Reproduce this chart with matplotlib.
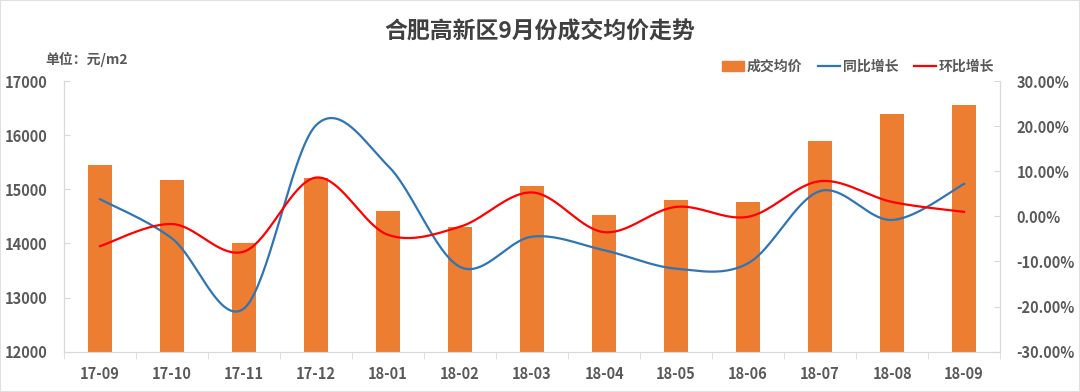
import numpy as np
import matplotlib.pyplot as plt
from matplotlib.patches import Patch
from matplotlib.lines import Line2D
from matplotlib.ticker import FixedLocator

plt.rcParams['font.family'] = ['Noto Sans CJK SC', 'DejaVu Sans']

months = ['17-09', '17-10', '17-11', '17-12', '18-01', '18-02', '18-03',
          '18-04', '18-05', '18-06', '18-07', '18-08', '18-09']
avg_price = [15440, 15175, 14000, 15205, 14600, 14300, 15065,
             14520, 14805, 14760, 15890, 16400, 16560]
yoy = [3.8, -4.9, -20.4, 20.2, 11.2, -11.2, -4.5, -7.5, -11.6, -10.4, 5.6, -0.8, 7.2]
mom = [-6.6, -1.7, -7.8, 8.6, -4.1, -2.3, 5.3, -3.5, 2.1, -0.1, 7.8, 3.2, 1.0]

ORANGE = '#ED7D31'
BLUE = '#2E75B6'
RED = '#FF0000'
TXT = '#595959'
AXC = '#D9D9D9'


def smooth(xs, ys, n=40):
    # catmull-rom style bezier, like excel's smoothed line
    xs = np.asarray(xs, float)
    ys = np.asarray(ys, float)
    px = np.concatenate([[xs[0]], xs, [xs[-1]]])
    py = np.concatenate([[ys[0]], ys, [ys[-1]]])
    t = np.linspace(0, 1, n)
    ox, oy = [], []
    for i in range(1, len(xs)):
        p0 = np.array([px[i - 1], py[i - 1]])
        p1 = np.array([px[i], py[i]])
        p2 = np.array([px[i + 1], py[i + 1]])
        p3 = np.array([px[i + 2], py[i + 2]])
        c1 = p1 + (p2 - p0) / 6
        c2 = p2 - (p3 - p1) / 6
        b = (np.outer((1 - t) ** 3, p1) + np.outer(3 * (1 - t) ** 2 * t, c1)
             + np.outer(3 * (1 - t) * t ** 2, c2) + np.outer(t ** 3, p2))
        ox.extend(b[:, 0])
        oy.extend(b[:, 1])
    return np.array(ox), np.array(oy)


fig = plt.figure(figsize=(10.8, 3.92), dpi=100)
ax = fig.add_axes([0.0593, 0.1028, 0.8667, 0.6905])
ax2 = ax.twinx()

x = np.arange(len(months))
ax.bar(x, avg_price, width=0.34, color=ORANGE, zorder=2)
ax.set_ylim(12000, 17000)
ax.set_xlim(-0.5, len(months) - 0.5)
ax.set_yticks(range(12000, 17001, 1000))

sx, sy = smooth(x, yoy)
ax2.plot(sx, sy, color=BLUE, lw=1.6, zorder=3)
sx, sy = smooth(x, mom)
ax2.plot(sx, sy, color=RED, lw=1.6, zorder=3)
ax2.set_ylim(-30, 30)
ax2.set_yticks(range(-30, 31, 10))
ax2.set_yticklabels([f'{v:.2f}%' for v in range(-30, 31, 10)])

ax.set_xticks(x)
ax.set_xticklabels(months)
ax.xaxis.set_minor_locator(FixedLocator(np.arange(-0.5, len(months), 1)))
ax.tick_params(axis='x', which='major', length=0, pad=10)
ax.tick_params(axis='x', which='minor', length=5, color=AXC, direction='out')
ax.tick_params(axis='y', length=4, color=AXC, direction='in', pad=12)
ax2.tick_params(axis='y', length=4, color=AXC, direction='in', pad=12)

for a in (ax, ax2):
    for s in a.spines.values():
        s.set_color(AXC)
    a.spines['top'].set_visible(False)
    for lab in a.get_xticklabels() + a.get_yticklabels():
        lab.set_color(TXT)
        lab.set_fontweight('bold')
        lab.set_fontsize(10.5)

fig.text(0.5, 0.922, '合肥高新区9月份成交均价走势', ha='center', va='center',
         fontsize=16.5, fontweight='bold', color='#404040')
fig.text(0.042, 0.848, '单位：元/m2', ha='left', va='center',
         fontsize=10, fontweight='bold', color=TXT)

handles = [Patch(color=ORANGE, label='成交均价'),
           Line2D([], [], color=BLUE, lw=1.6, label='同比增长'),
           Line2D([], [], color=RED, lw=1.6, label='环比增长')]
leg = fig.legend(handles=handles, loc='center right', bbox_to_anchor=(0.932, 0.83),
                 ncol=3, frameon=False, fontsize=10, handlelength=1.6,
                 handleheight=0.7, handletextpad=0.2, columnspacing=1.1)
for t in leg.get_texts():
    t.set_color(TXT)
    t.set_fontweight('bold')

fig.patches.append(plt.Rectangle((0, 0), 1, 1, transform=fig.transFigure,
                                 fill=False, edgecolor='#E0E0E0', lw=1.5))

fig.savefig('out.png', dpi=100)
